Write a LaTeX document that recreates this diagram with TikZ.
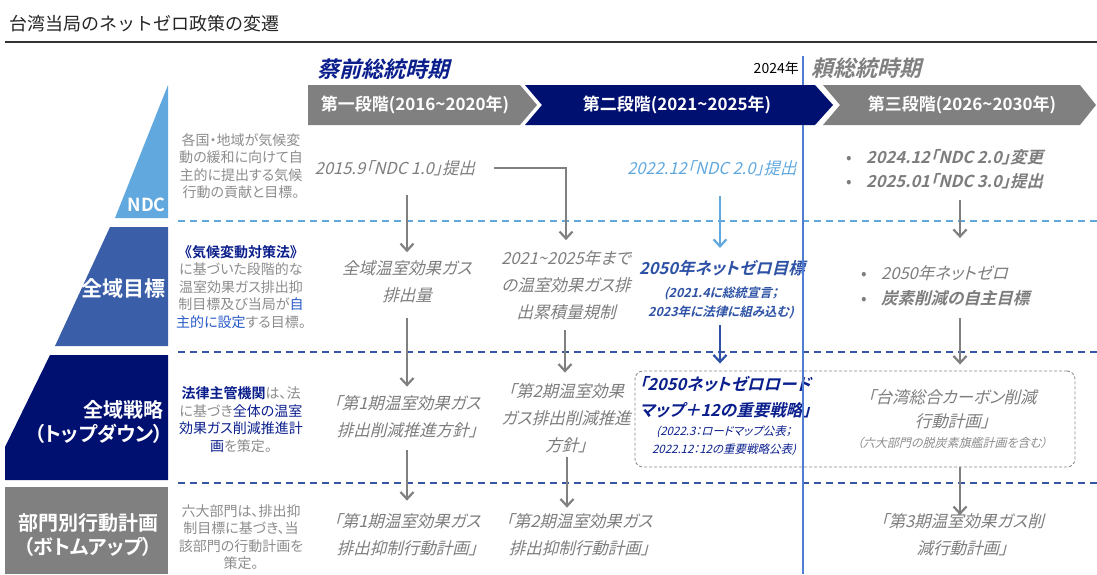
\documentclass[tikz,border=0pt]{standalone}
\usepackage{fontspec}
\setmainfont{Noto Sans CJK JP}[UprightFont=*, BoldFont=* Bold, RawFeature=+palt]
\newfontfamily\jpit{Noto Sans CJK JP}[FakeSlant=0.25, RawFeature=+palt, BoldFont=* Bold]
\newfontfamily\titlefont{Noto Sans CJK JP}
\usetikzlibrary{arrows.meta}
\definecolor{cNavy}{RGB}{0,16,112}
\definecolor{cNavyT}{RGB}{10,30,140}
\definecolor{cMid}{RGB}{58,94,168}
\definecolor{cMidT}{RGB}{45,82,165}
\definecolor{cNdc}{RGB}{96,168,222}
\definecolor{cBar}{RGB}{128,128,128}
\definecolor{cGray}{RGB}{125,125,125}
\definecolor{cDesc}{RGB}{140,140,140}
\definecolor{cBlueT}{RGB}{40,90,200}
\definecolor{cV}{RGB}{80,125,210}
\definecolor{cDash}{RGB}{55,85,165}
\newcommand\mybul{\makebox[20pt][l]{\normalfont •}}
\newcommand\tld{\char"7E\relax}
\begin{document}
\begin{tikzpicture}[x=1pt,y=-1pt,
  rowtxt/.style={font=\jpit\fontsize{16.5}{27}\selectfont, text=cGray, align=center, inner sep=0pt},
  desc/.style={font=\fontsize{14}{17.5}\selectfont, text=cDesc, align=center, inner sep=0pt},
  lbl/.style={font=\fontsize{20}{24}\selectfont\bfseries, text=white, inner sep=0pt},
  bartxt/.style={font=\fontsize{17}{19}\selectfont\bfseries, text=white, inner sep=0pt},
  arr/.style={draw=cBar, line width=2.2pt, -{Straight Barb[length=7pt,width=13pt,line width=2.2pt]}},
  lightdash/.style={draw=cNdc, line width=1.3pt, dash pattern=on 7pt off 5pt},
  darkdash/.style={draw=cDash, line width=1.3pt, dash pattern=on 7pt off 5pt},
  dbox/.style={draw=black!45, line width=0.9pt, dash pattern=on 3pt off 2pt, rounded corners=8pt, inner sep=0pt},
  vline/.style={draw=cV, line width=1.6pt}]
\useasboundingbox (0,0) rectangle (1097,574);

% title
\node[anchor=west, inner sep=0pt, font=\titlefont\fontsize{18}{20}\selectfont, text=black!85] (title) at (9,24) {台湾当局のネットゼロ政策の変遷};
\draw[black!80, line width=1.2pt] (5,42) -- (1097,42);

% period headings
\node[anchor=west, inner sep=0pt, font=\jpit\fontsize{22}{24}\selectfont\bfseries, text=cNavyT] (cai) at (317,69) {蔡前総統時期};
\node[anchor=east, inner sep=0pt, font=\fontsize{14}{16}\selectfont, text=black] (y2024) at (799,68) {2024年};
\node[anchor=west, inner sep=0pt, font=\jpit\fontsize{22}{24}\selectfont\bfseries, text=cBar] (lai) at (811,68) {頼総統時期};

% vertical line (upper part)
\draw[vline] (803,56) -- (803,85);

% phase bars
\fill[cBar] (308,85) -- (520,85) -- (537,105) -- (520,125) -- (308,125) -- cycle;
\fill[cNavy] (525,85) -- (815,85) -- (833,105) -- (815,125) -- (525,125) -- (542,105) -- cycle;
\fill[cBar] (823,85) -- (1080,85) -- (1096,105) -- (1080,125) -- (823,125) -- (840,105) -- cycle;
\node[bartxt] (ph1) at (415,105) {第一段階(2016\tld 2020年)};
\node[bartxt] (ph2) at (677,105) {第二段階(2021\tld 2025年)};
\node[bartxt] (ph3) at (962,105) {第三段階(2026\tld 2030年)};

% pyramid
\fill[cNdc] (168,85) -- (168,218) -- (115,218) -- cycle;
\fill[cMid] (110,227) -- (168,227) -- (168,346) -- (55,346) -- cycle;
\fill[cNavy] (50,355) -- (168,355) -- (168,480) -- (5,480) -- (5,447) -- cycle;
\fill[cBar] (5,487) rectangle (168,574);
\node[lbl, font=\fontsize{18}{20}\selectfont\bfseries, anchor=east] (ndc) at (166,205) {NDC};
\node[lbl, font=\fontsize{21}{24}\selectfont\bfseries, anchor=east] (zg) at (166,288) {全域目標};
\node[lbl, anchor=east, align=right] (zs) at (164,421.5) {全域戦略\\（トップダウン）};
\node[lbl, align=center] (bm) at (88,535) {部門別行動計画\\（ボトムアップ）};

% descriptions
\node[desc] (d1) at (241,166) {各国・地域が気候変\\動の緩和に向けて自\\主的に提出する気候\\行動の貢献と目標。};
\node[desc] (d2) at (241,287) {{\color{cNavyT}\bfseries 《気候変動対策法》}\\に基づいた段階的な\\温室効果ガス排出抑\\制目標及び当局が{\color{cBlueT}自}\\{\color{cBlueT}主的に設定}する目標。};
\node[desc] (d3) at (241,419.5) {{\color{cNavyT}\bfseries 法律主管機関}は、法\\に基づき{\color{cNavyT}全体の温室}\\{\color{cNavyT}効果ガス削減推進計}\\{\color{cNavyT}画}を策定。};
\node[desc] (d4) at (241,537) {六大部門は、排出抑\\制目標に基づき、当\\該部門の行動計画を\\策定。};

% row separators
\draw[lightdash] (178,221) -- (1097,221);
\draw[darkdash] (178,352) -- (1097,352);
\draw[darkdash] (178,483) -- (1097,483);

% row 1 (NDC)
\node[rowtxt] (n1) at (395,168) {2015.9「NDC 1.0」提出};
\node[rowtxt, text=cNdc] (n2) at (712,168) {2022.12「NDC 2.0」提出};
\node[rowtxt, font=\jpit\fontsize{16.5}{24}\selectfont\bfseries, anchor=west, align=left] (n3) at (846,169) {\mybul 2024.12「NDC 2.0」変更\\\mybul 2025.01「NDC 3.0」提出};

% row 2 (全域目標)
\node[rowtxt] (m1) at (407,281.5) {全域温室効果ガス\\排出量};
\node[rowtxt] (m2) at (566,285) {2021\tld 2025年まで\\の温室効果ガス排\\出累積量規制};
\node[rowtxt, font=\jpit\fontsize{16.5}{27}\selectfont\bfseries, text=cMidT] (m3) at (722,268) {2050年ネットゼロ目標};
\node[rowtxt, font=\jpit\fontsize{12.5}{19}\selectfont\bfseries, text=cMidT] (m3s) at (721,302.5) {(2021.4に総統宣言；\\2023年に法律に組み込む)};
\node[rowtxt, font=\jpit\fontsize{16.5}{25}\selectfont, anchor=west, align=left] (m4) at (861,285.5) {\mybul 2050年ネットゼロ\\\mybul{\bfseries 炭素削減の自主目標}};

% row 3 (全域戦略)
\node[rowtxt] (p1) at (407,417) {「第1期温室効果ガス\\排出削減推進方針」};
\node[rowtxt] (p2) at (566,418.5) {「第2期温室効果\\ガス排出削減推進\\方針」};
\node[dbox, minimum width=440pt, minimum height=96pt] (box) at (855,419) {};
\node[rowtxt, font=\jpit\fontsize{16.5}{26}\selectfont\bfseries, text=cNavyT] (q1) at (725,397.5) {「2050ネットゼロロード\\マップ＋12の重要戦略」};
\node[rowtxt, font=\jpit\fontsize{11.5}{18}\selectfont, text=cNavyT] (q1s) at (724,441) {(2022.3：ロードマップ公表；\\2022.12：12の重要戦略公表)};
\node[rowtxt, font=\jpit\fontsize{16.5}{24}\selectfont] (q2) at (952,409) {「台湾総合カーボン削減\\行動計画」};
\node[rowtxt, font=\jpit\fontsize{12}{14}\selectfont, text=cDesc] (q3) at (952,443) {（六大部門の脱炭素旗艦計画を含む）};

% row 4 (部門別行動計画)
\node[rowtxt] (r1) at (407,535) {「第1期温室効果ガス\\排出抑制行動計画」};
\node[rowtxt] (r2) at (579,535) {「第2期温室効果ガス\\排出抑制行動計画」};
\node[rowtxt] (r3) at (962,534.5) {「第3期温室効果ガス削\\減行動計画」};

% arrow columns
\coordinate (k1) at (407,0);
\coordinate (k2) at (565,0);
\coordinate (k2b) at (567,0);
\coordinate (k3) at (720,0);
\coordinate (k4) at (960,0);

% arrows
\draw[arr, shorten <=19pt, shorten >=8pt] (n1.south -| k1) -- (m1.north -| k1);
\draw[arr, shorten <=19pt, shorten >=10pt] (n1.east) -| (m2.north);
\draw[arr, draw=cNdc, shorten <=20pt, shorten >=12pt] (n2.south -| k3) -- (m3.north -| k3);
\draw[arr, shorten <=11pt, shorten >=27pt] (n3.south -| k4) -- (m4.north -| k4);
\draw[arr, shorten <=15pt, shorten >=9pt] (m1.south -| k1) -- (p1.north -| k1);
\draw[arr, shorten <=10pt, shorten >=11pt] (m2.south -| k2) -- (p2.north -| k2);
\draw[arr, draw=cMidT, shorten <=6pt, shorten >=7pt] (m3s.south -| k3) -- (box.north -| k3);
\draw[arr, shorten <=12pt, shorten >=6pt] (m4.south -| k4) -- (box.north -| k4);
\draw[arr, shorten <=12pt, shorten >=13pt] (p1.south -| k1) -- (r1.north -| k1);
\draw[arr, shorten <=4pt, shorten >=6pt] (p2.south -| k2b) -- (r2.north -| k2b);
\draw[arr, shorten >=-2pt] (box.south -| k4) -- (r3.north -| k4);

% vertical line (lower part)
\draw[vline] (803,125) -- (803,574);
\end{tikzpicture}
\end{document}
